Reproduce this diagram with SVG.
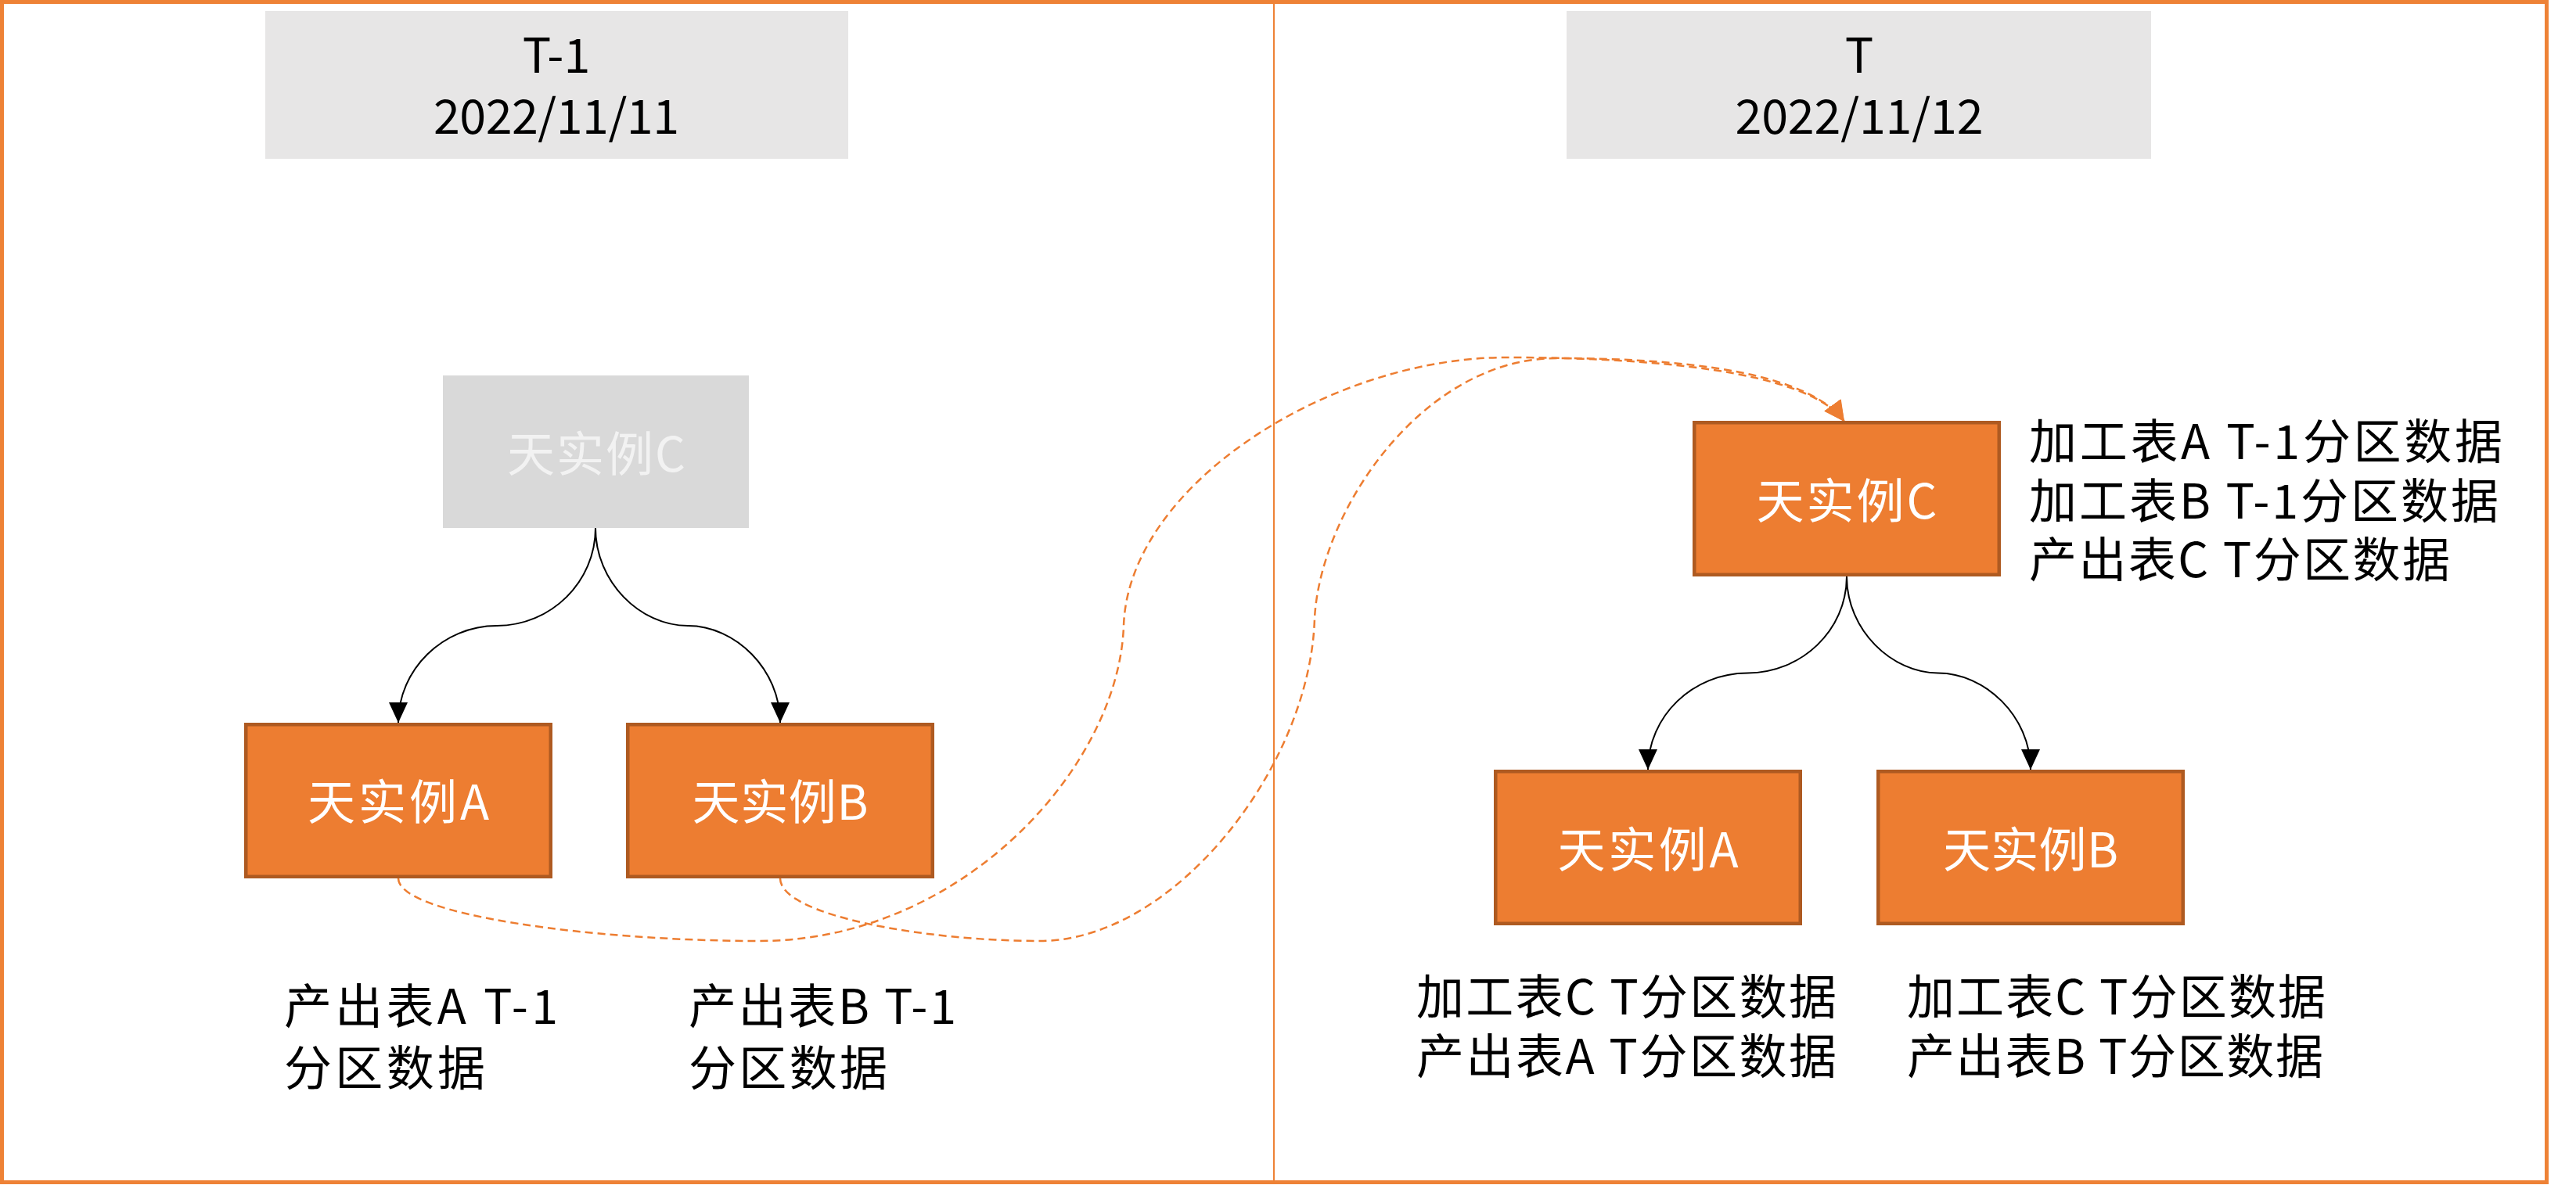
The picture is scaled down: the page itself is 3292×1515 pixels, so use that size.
<svg xmlns="http://www.w3.org/2000/svg" width="3292" height="1515" viewBox="0 0 3292 1515">
  <style>
    text { font-family: "Noto Sans CJK SC", "Noto Sans", sans-serif; font-size: 61px; }
    .frame { fill: none; stroke: #ee8236; stroke-width: 5; }
    .divider { stroke: #ee8236; stroke-width: 2; }
    .hdr { fill: #e7e6e6; }
    .htxt { fill: #000; text-anchor: middle; }
    .node { fill: #ed7d31; stroke: #ae5a21; stroke-width: 4.5; }
    .ghost { fill: #d9d9d9; }
    .lbl { fill: #ffffff; text-anchor: middle; }
    .glbl { fill: #f2f2f2; text-anchor: middle; }
    .note { fill: #000; }
    .edge { fill: none; stroke: #000; stroke-width: 2; marker-end: url(#arrowBlack); }
    .dash { fill: none; stroke: #ed7d31; stroke-width: 2.5; stroke-dasharray: 10 6; marker-end: url(#arrowOrange); }
  </style>
  <defs>
    <marker id="arrowBlack" markerUnits="userSpaceOnUse" viewBox="0 0 26 24" markerWidth="26" markerHeight="24" refX="26" refY="12" orient="auto">
      <path d="M0,0 L26,12 L0,24 Z" fill="#000"/>
    </marker>
    <marker id="arrowOrange" markerUnits="userSpaceOnUse" viewBox="0 0 26 26" markerWidth="26" markerHeight="26" refX="26" refY="13" orient="auto">
      <path d="M0,0 L26,13 L0,26 Z" fill="#ed7d31"/>
    </marker>
  </defs>

  <rect width="3292" height="1515" fill="#ffffff"/>

  <g id="frame">
    <rect class="frame" x="2.5" y="2.5" width="3252" height="1509"/>
    <line class="divider" x1="1628" y1="2.5" x2="1628" y2="1511.5"/>
  </g>

  <g id="header-t-1">
    <rect class="hdr" x="339" y="14" width="745" height="189"/>
    <text class="htxt"><tspan x="711" y="93">T-1</tspan><tspan x="711" y="171" textLength="314" lengthAdjust="spacing">2022/11/11</tspan></text>
  </g>

  <g id="header-t">
    <rect class="hdr" x="2002" y="14" width="747" height="189"/>
    <text class="htxt"><tspan x="2376" y="93">T</tspan><tspan x="2376" y="171" textLength="317" lengthAdjust="spacing">2022/11/12</tspan></text>
  </g>

  <g id="connectors">
    <path class="edge" d="M761,675 C761,744 704,800 635,800 C566,800 509,856 509,924"/>
    <path class="edge" d="M761,675 C761,744 818,800 879,800 C940,800 997,856 997,924"/>
    <path class="edge" d="M2360,737 C2360,806 2302,860.5 2233,860.5 C2164,860.5 2106,915 2106,984"/>
    <path class="edge" d="M2360,737 C2360,806 2418,860.5 2477,860.5 C2536,860.5 2595,915 2595,984"/>
    <path class="dash" d="M509,1123 C509,1170 760,1203 970,1203 C1230,1203 1430,980 1436,800 C1442,620 1700,457 1925,457 C2100,457 2310,472 2357,539"/>
    <path class="dash" d="M997,1123 C997,1170 1180,1203 1329,1203 C1500,1203 1675,980 1680,790 C1688,650 1820,458 1989,458 C2150,458 2310,475 2357,539"/>
  </g>

  <g id="node-c-prev">
    <rect class="ghost" x="566" y="480" width="391" height="195"/>
    <text class="glbl" x="762" y="603" textLength="228" lengthAdjust="spacing">天实例C</text>
  </g>

  <g id="node-a-prev">
    <rect class="node" x="314.25" y="926.25" width="389.5" height="194.5"/>
    <text class="lbl" x="509" y="1048" textLength="232" lengthAdjust="spacing">天实例A</text>
  </g>

  <g id="node-b-prev">
    <rect class="node" x="802.25" y="926.25" width="389.5" height="194.5"/>
    <text class="lbl" x="997" y="1048" textLength="225" lengthAdjust="spacing">天实例B</text>
  </g>

  <g id="node-c">
    <rect class="node" x="2165.25" y="540.25" width="389.5" height="194.5"/>
    <text class="lbl" x="2360" y="663" textLength="231" lengthAdjust="spacing">天实例C</text>
  </g>

  <g id="node-a">
    <rect class="node" x="1911.25" y="986.25" width="389.5" height="194.5"/>
    <text class="lbl" x="2106" y="1109" textLength="231" lengthAdjust="spacing">天实例A</text>
  </g>

  <g id="node-b">
    <rect class="node" x="2400.25" y="986.25" width="389.5" height="194.5"/>
    <text class="lbl" x="2595" y="1109" textLength="224" lengthAdjust="spacing">天实例B</text>
  </g>

  <g id="note-a-prev">
    <text class="note"><tspan x="363" y="1309" textLength="350" lengthAdjust="spacing">产出表A T-1</tspan><tspan x="363" y="1388" textLength="257" lengthAdjust="spacing">分区数据</tspan></text>
  </g>

  <g id="note-b-prev">
    <text class="note"><tspan x="880" y="1309" textLength="342" lengthAdjust="spacing">产出表B T-1</tspan><tspan x="880" y="1388" textLength="254" lengthAdjust="spacing">分区数据</tspan></text>
  </g>

  <g id="note-c">
    <text class="note"><tspan x="2593" y="587" textLength="605" lengthAdjust="spacing">加工表A T-1分区数据</tspan><tspan x="2593" y="663" textLength="600" lengthAdjust="spacing">加工表B T-1分区数据</tspan><tspan x="2593" y="738" textLength="538" lengthAdjust="spacing">产出表C T分区数据</tspan></text>
  </g>

  <g id="note-a">
    <text class="note"><tspan x="1810" y="1297" textLength="537" lengthAdjust="spacing">加工表C T分区数据</tspan><tspan x="1810" y="1373" textLength="537" lengthAdjust="spacing">产出表A T分区数据</tspan></text>
  </g>

  <g id="note-b">
    <text class="note"><tspan x="2437" y="1297" textLength="535" lengthAdjust="spacing">加工表C T分区数据</tspan><tspan x="2437" y="1373" textLength="532" lengthAdjust="spacing">产出表B T分区数据</tspan></text>
  </g>
</svg>
